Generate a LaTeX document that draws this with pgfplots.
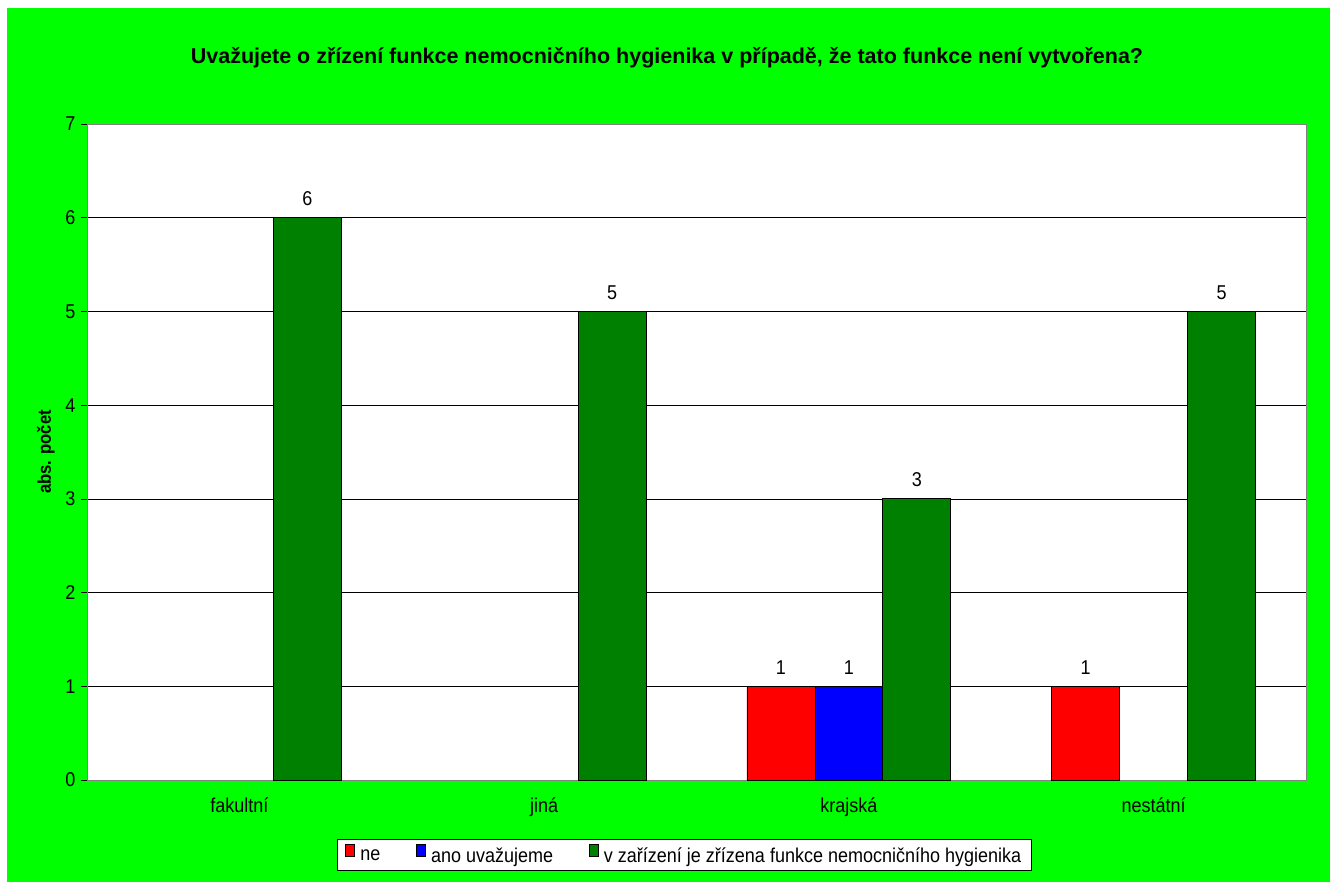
\documentclass[border=0pt]{standalone}
\usepackage{pgfplots}
\pgfplotsset{compat=1.18}
\usepackage{fontspec}
\setmainfont{Liberation Sans}
\newfontfamily\narrowfont[FakeStretch=0.9]{Liberation Sans}
\definecolor{bggreen}{HTML}{00FF00}
\definecolor{barred}{HTML}{FF0000}
\definecolor{barblue}{HTML}{0000FF}
\definecolor{bargreen}{HTML}{008000}
\definecolor{framegray}{HTML}{808080}

\begin{document}
\begin{tikzpicture}[x=1pt,y=1pt]
  % page and chart background
  \fill[white] (0,0) rectangle (1330,882);
  \fill[bggreen] (7,0) rectangle (1330,874);
  \node[font=\bfseries\fontsize{21.5}{24}\selectfont] at (667,824)
    {Uvažujete o zřízení funkce nemocničního hygienika v případě, že tato funkce není vytvořena?};
  \begin{axis}[
    at={(87pt,102pt)}, anchor=south west,
    scale only axis, width=1219pt, height=656pt,
    xmin=-0.5, xmax=3.5, ymin=0, ymax=7,
    axis background/.style={fill=white},
    axis line style={framegray, line width=0.8pt},
    ytick={0,...,7},
    ymajorgrids, major grid style={black, line width=0.6pt},
    xtick={0,1,2,3},
    xticklabels={fakultní,jiná,krajská,nestátní},
    major x tick style={draw=none},
    extra x ticks={-0.5,0.5,1.5,2.5,3.5},
    extra x tick labels={},
    extra x tick style={major tick length=6pt, tick style={black, line width=0.6pt}, tick align=outside, xmajorgrids=false},
    tick align=outside, major tick length=6pt,
    ytick style={black, line width=0.6pt},
    tick pos=left,
    /pgf/number format/assume math mode=true,
    ticklabel style={font=\narrowfont\fontsize{20}{22}\selectfont},
    xticklabel style={yshift=-8pt},
    yticklabel style={xshift=-2pt},
    ylabel={abs. počet},
    ylabel style={font=\narrowfont\bfseries\fontsize{18.5}{20}\selectfont, yshift=4pt},
    ybar, bar width=0.223,
    nodes near coords,
    every node near coord/.append style={font=\narrowfont\fontsize{20}{22}\selectfont, black, yshift=8pt},
    clip=false,
    legend columns=3,
    legend style={at={(0.490,-0.1143)}, anchor=center, draw=black, line width=0.6pt,
      font=\narrowfont\fontsize{20}{22}\selectfont, inner xsep=8pt, inner ysep=4pt,
      /tikz/every odd column/.append style={column sep=3pt},
      /tikz/every even column/.append style={column sep=34pt}},
    legend image code/.code={\draw[#1, draw=black, line width=0.8pt] (0pt,0pt) rectangle (9pt,12pt);},
  ]
    \addplot[fill=barred, draw=black, line width=0.8pt, bar shift=-0.223]
      coordinates {(2,1) (3,1)};
    \addplot[fill=barblue, draw=black, line width=0.8pt, bar shift=0]
      coordinates {(2,1)};
    \addplot[fill=bargreen, draw=black, line width=0.8pt, bar shift=0.223]
      coordinates {(0,6) (1,5) (2,3) (3,5)};
    \legend{ne, ano uvažujeme, v zařízení je zřízena funkce nemocničního hygienika}
  \end{axis}
\end{tikzpicture}
\end{document}
